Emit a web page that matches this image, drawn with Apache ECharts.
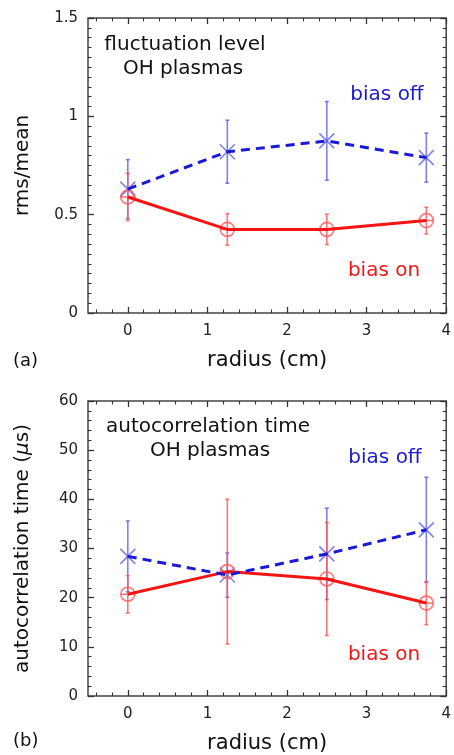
<!DOCTYPE html>
<html>
<head>
<meta charset="utf-8">
<script src="https://cdn.jsdelivr.net/npm/echarts@6/dist/echarts.min.js"></script>
<style>html,body{margin:0;padding:0;background:#fff}#c{width:454px;height:755px}</style>
</head>
<body>
<div id="c"></div>
<script>
// ---- data ----
const radius = [0, 1.25, 2.5, 3.75];
const fluctOff = [0.63, 0.82, 0.875, 0.79];
const fluctOffErr = [0.15, 0.16, 0.2, 0.125];
const fluctOn = [0.59, 0.425, 0.425, 0.47];
const fluctOnErr = [0.12, 0.08, 0.077, 0.068];
const acOff = [28.4, 24.6, 28.9, 33.8];
const acOffErr = [7.2, 4.5, 9.3, 10.7];
const acOn = [20.7, 25.3, 23.8, 18.9];
const acOnErr = [3.8, 14.7, 11.5, 4.4];
const xMajorTicks = [0, 1, 2, 3, 4];
const xMinorTicks = [-0.4, -0.2, 0.2, 0.4, 0.6, 0.8, 1.2, 1.4, 1.6, 1.8, 2.2, 2.4, 2.6, 2.8, 3.2, 3.4, 3.6, 3.8];

const FONT = 'DejaVu Sans';
const BLUE = '#1a1ad4', RED = '#f51414';
const BLUE_L = 'rgba(85,85,235,0.75)', RED_L = 'rgba(255,85,85,0.8)';
const AX = '#333';
const TXT = '#111';

const chart = echarts.init(document.getElementById('c'), null, {renderer: 'canvas'});

function xAxes(gridIndex) {
  const base = {type: 'value', gridIndex, min: -0.5, max: 4, splitLine: {show: false},
    axisLine: {show: false, onZero: false}};
  return [
    Object.assign({}, base, {position: 'bottom',
      axisTick: {inside: true, length: 6, lineStyle: {color: AX, width: 1.3}, customValues: xMajorTicks},
      axisLabel: {customValues: xMajorTicks, color: '#222', fontFamily: FONT, fontSize: 15, margin: 11},
      name: 'radius (cm)', nameLocation: 'middle', nameGap: 37,
      nameTextStyle: {fontFamily: FONT, fontSize: 21, color: TXT}}),
    Object.assign({}, base, {position: 'bottom',
      axisTick: {inside: true, length: 3.5, lineStyle: {color: AX, width: 1.1}, customValues: xMinorTicks},
      axisLabel: {show: false}}),
    Object.assign({}, base, {position: 'top',
      axisTick: {inside: true, length: 6, lineStyle: {color: AX, width: 1.3}, customValues: xMajorTicks},
      axisLabel: {show: false}}),
    Object.assign({}, base, {position: 'top',
      axisTick: {inside: true, length: 3.5, lineStyle: {color: AX, width: 1.1}, customValues: xMinorTicks},
      axisLabel: {show: false}})
  ];
}
function yAxes(gridIndex, max, interval, minorSplit, name) {
  const base = {type: 'value', gridIndex, min: 0, max, interval, splitLine: {show: false},
    axisLine: {show: false, onZero: false},
    axisTick: {inside: true, length: 6, lineStyle: {color: AX, width: 1.3}},
    minorTick: {show: true, splitNumber: minorSplit, length: 3.5, lineStyle: {color: AX, width: 1.1}}};
  return [
    Object.assign({}, base, {position: 'left',
      axisLabel: {color: '#222', fontFamily: FONT, fontSize: 15, margin: 10},
      name, nameLocation: 'middle', nameGap: 55,
      nameTextStyle: {fontFamily: FONT, fontSize: 20, color: TXT,
        rich: {i: {fontFamily: FONT, fontSize: 20, fontStyle: 'italic', color: TXT}}}}),
    Object.assign({}, base, {position: 'right', axisLabel: {show: false}})
  ];
}

function errRender(kind, lightColor) {
  return function (params, api) {
    const x = api.value(0), y = api.value(1), e = api.value(2);
    const p = api.coord([x, y]);
    const t = api.coord([x, y + e]);
    const b = api.coord([x, y - e]);
    const st = {stroke: lightColor, lineWidth: 1.6};
    const ch = [
      {type: 'line', shape: {x1: p[0], y1: t[1], x2: p[0], y2: b[1]}, style: st},
      {type: 'line', shape: {x1: p[0] - 2, y1: t[1], x2: p[0] + 2, y2: t[1]}, style: st},
      {type: 'line', shape: {x1: p[0] - 2, y1: b[1], x2: p[0] + 2, y2: b[1]}, style: st}
    ];
    if (kind === 'x') {
      const r = 7.5;
      ch.push({type: 'line', shape: {x1: p[0] - r, y1: p[1] - r, x2: p[0] + r, y2: p[1] + r}, style: st});
      ch.push({type: 'line', shape: {x1: p[0] - r, y1: p[1] + r, x2: p[0] + r, y2: p[1] - r}, style: st});
    } else {
      ch.push({type: 'circle', shape: {cx: p[0], cy: p[1], r: 7}, style: {fill: 'none', stroke: lightColor, lineWidth: 1.6}});
      ch.push({type: 'line', shape: {x1: p[0] - 7, y1: p[1], x2: p[0] + 7, y2: p[1]}, style: st});
    }
    return {type: 'group', children: ch};
  };
}
function triples(xs, ys, es) { return xs.map((x, i) => [x, ys[i], es[i]]); }
function pairs(xs, ys) { return xs.map((x, i) => [x, ys[i]]); }

function seriesFor(xi, yi, off, offErr, on, onErr) {
  return [
    {type: 'custom', coordinateSystem: 'cartesian2d', xAxisIndex: xi, yAxisIndex: yi,
      renderItem: errRender('x', BLUE_L), data: triples(radius, off, offErr), encode: {x: 0, y: 1}, z: 2, silent: true},
    {type: 'custom', coordinateSystem: 'cartesian2d', xAxisIndex: xi, yAxisIndex: yi,
      renderItem: errRender('o', RED_L), data: triples(radius, on, onErr), encode: {x: 0, y: 1}, z: 2, silent: true},
    {type: 'line', xAxisIndex: xi, yAxisIndex: yi, data: pairs(radius, on), symbol: 'none',
      lineStyle: {color: RED, width: 3}, z: 3, animation: false, silent: true},
    {type: 'line', xAxisIndex: xi, yAxisIndex: yi, data: pairs(radius, off), symbol: 'none',
      lineStyle: {color: BLUE, width: 3, type: [9, 6]}, z: 4, animation: false, silent: true}
  ];
}

function txt(text, x, y, color, size, align) {
  return {type: 'text', x, y, silent: true, z: 10,
    style: {text, fill: color, font: (size || 20) + 'px "' + FONT + '"', align: align || 'center', verticalAlign: 'middle'}};
}

const option = {
  animation: false,
  backgroundColor: '#fff',
  grid: [
    {left: 88, top: 18, width: 361, height: 295, show: true, borderColor: '#444', borderWidth: 1.5, backgroundColor: 'transparent'},
    {left: 88, top: 401, width: 361, height: 295, show: true, borderColor: '#444', borderWidth: 1.5, backgroundColor: 'transparent'}
  ],
  xAxis: xAxes(0).concat(xAxes(1)),
  yAxis: yAxes(0, 1.5, 0.5, 10, 'rms/mean').concat(
         yAxes(1, 60, 10, 5, 'autocorrelation time ({i|μ}s)')),
  series: seriesFor(0, 0, fluctOff, fluctOffErr, fluctOn, fluctOnErr)
    .concat(seriesFor(4, 2, acOff, acOffErr, acOn, acOnErr)),
  graphic: [
    txt('fluctuation level', 185, 45, TXT),
    txt('OH plasmas', 183, 69, TXT),
    txt('bias off', 387, 95, BLUE),
    txt('bias on', 384, 271, RED),
    txt('autocorrelation time', 208, 427, TXT),
    txt('OH plasmas', 210, 451, TXT),
    txt('bias off', 385, 458, BLUE),
    txt('bias on', 384, 655, RED),
    txt('(a)', 13, 361, TXT, 18, 'left'),
    txt('(b)', 13, 741, TXT, 18, 'left')
  ]
};
chart.setOption(option);
</script>
</body>
</html>
